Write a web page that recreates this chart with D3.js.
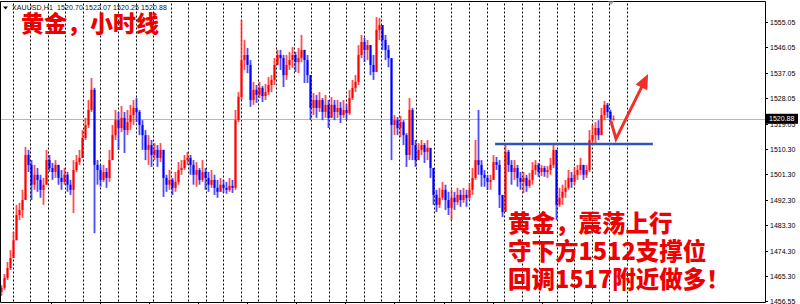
<!DOCTYPE html>
<html>
<head>
<meta charset="utf-8">
<script src="https://cdn.jsdelivr.net/npm/d3@7"></script>
<style>
  body { margin: 0; background: #fff; }
  svg { display: block; }
</style>
</head>
<body>
<svg id="mySVG"></svg>
<script>
// XAUUSD H1 bars (open = previous close)
var firstOpen = 1459.8;

var closes = [
  1461.2,1464.7,1468.2,1471.7,1478.0,1486.9,1488.7,1492.2,1508.1,1504.6,
  1497.6,1501.1,1499.3,1495.8,1497.6,1506.3,1503.5,1502.1,1504.6,1500.0,
  1498.6,1501.1,1497.6,1495.8,1502.8,1505.6,1507.1,1514.1,1518.7,1524.0,
  1531.1,1504.6,1502.8,1499.3,1502.1,1500.0,1506.3,1515.1,1520.4,1517.6,
  1521.2,1516.9,1519.7,1522.2,1524.7,1523.3,1518.7,1515.1,1509.9,1511.6,
  1508.1,1509.9,1507.1,1509.9,1500.0,1497.6,1499.3,1496.5,1498.6,1502.8,
  1503.5,1506.3,1507.1,1504.6,1501.1,1502.8,1499.3,1502.1,1500.0,1497.6,
  1499.3,1496.5,1495.1,1497.6,1496.5,1495.8,1497.2,1496.5,1520.4,1528.6,
  1541.6,1543.4,1539.9,1527.5,1531.1,1529.3,1531.8,1528.9,1530.3,1532.8,
  1534.6,1539.9,1543.4,1542.3,1536.3,1539.9,1541.6,1543.4,1540.9,1542.3,
  1545.2,1541.6,1536.3,1524.7,1527.5,1524.7,1527.5,1523.3,1525.8,1521.2,
  1525.8,1523.3,1524.7,1522.2,1524.0,1522.9,1528.2,1531.8,1533.9,1543.4,
  1548.0,1545.2,1546.9,1539.9,1537.4,1552.2,1554.0,1548.7,1545.2,1542.3,
  1518.7,1520.4,1517.6,1519.7,1515.1,1508.1,1524.0,1511.6,1506.3,1509.9,
  1511.6,1509.2,1510.6,1503.5,1494.0,1490.5,1493.0,1495.8,1492.2,1489.4,
  1493.0,1491.5,1494.0,1492.2,1494.0,1493.0,1495.8,1500.0,1506.3,1504.6,
  1501.1,1500.0,1498.6,1499.3,1505.6,1504.6,1494.0,1488.0,1509.2,1504.6,
  1502.1,1503.5,1500.0,1498.6,1500.0,1497.2,1499.3,1502.8,1504.6,1502.1,
  1503.5,1502.1,1502.8,1504.6,1509.9,1490.5,1493.0,1495.1,1496.5,1500.0,
  1498.6,1501.1,1502.8,1504.6,1501.1,1502.8,1513.4,1515.1,1517.6,1515.1,
  1522.2,1525.8,1523.3,1520.70,1520.88
];

var highs = [
  1462.2,1466.1,1470.3,1474.5,1480.9,1490.5,1491.2,1495.8,1510.9,1509.9,
  1506.3,1504.6,1503.5,1501.1,1500.0,1509.9,1508.1,1505.3,1506.3,1504.6,
  1502.8,1503.5,1502.1,1499.3,1506.3,1508.1,1509.9,1516.9,1521.2,1527.5,
  1535.3,1531.8,1506.3,1504.6,1504.6,1503.5,1509.9,1518.7,1524.0,1523.3,
  1525.4,1523.3,1524.0,1525.8,1527.5,1528.2,1524.0,1520.4,1516.9,1515.1,
  1513.4,1512.3,1511.6,1512.3,1509.9,1501.1,1502.8,1500.0,1502.1,1505.6,
  1506.3,1508.1,1509.2,1508.1,1506.3,1505.6,1503.5,1506.3,1503.5,1502.1,
  1502.8,1501.1,1499.3,1500.0,1499.3,1498.6,1500.0,1499.3,1524.0,1530.3,
  1555.8,1548.7,1545.9,1541.6,1533.9,1532.8,1533.9,1532.5,1533.2,1535.6,
  1536.3,1542.3,1545.2,1545.2,1543.4,1543.4,1544.5,1546.2,1544.5,1545.9,
  1550.5,1545.2,1543.4,1536.3,1530.0,1529.3,1530.3,1528.2,1529.3,1527.5,
  1528.6,1527.5,1527.5,1526.8,1527.5,1526.1,1531.1,1534.6,1536.3,1546.9,
  1550.5,1549.4,1548.7,1546.9,1543.4,1556.8,1556.5,1553.3,1550.5,1546.9,
  1541.6,1522.2,1521.5,1521.9,1520.4,1515.8,1528.2,1524.7,1513.4,1512.3,
  1513.4,1512.3,1513.4,1510.6,1502.8,1495.8,1496.5,1498.6,1497.6,1495.1,
  1495.8,1495.1,1496.5,1495.8,1496.5,1495.8,1498.3,1503.5,1513.4,1524.0,
  1506.3,1502.8,1501.1,1501.1,1508.1,1507.4,1506.3,1494.0,1511.6,1509.9,
  1506.3,1506.3,1504.6,1502.1,1502.1,1501.1,1501.8,1505.6,1506.3,1505.3,
  1504.6,1504.2,1504.2,1507.1,1512.0,1509.9,1496.5,1497.6,1499.3,1502.8,
  1502.1,1503.9,1504.6,1507.1,1504.6,1504.6,1516.9,1518.7,1519.7,1520.4,
  1524.7,1527.2,1526.5,1524.0,1522.07
];

var lows = [
  1458.4,1460.5,1464.0,1467.5,1471.7,1478.0,1485.1,1485.9,1492.2,1502.1,
  1492.2,1495.8,1495.1,1493.0,1490.5,1497.6,1502.1,1499.3,1500.0,1497.6,
  1495.8,1497.6,1495.1,1494.0,1487.6,1502.1,1504.6,1507.1,1513.4,1517.6,
  1523.3,1480.5,1497.6,1496.9,1498.6,1496.5,1498.6,1506.3,1513.4,1509.9,
  1516.2,1508.8,1515.1,1516.9,1518.7,1519.7,1515.1,1509.9,1506.3,1504.6,
  1503.9,1506.3,1503.9,1505.6,1493.3,1495.1,1495.8,1494.0,1495.1,1497.6,
  1501.1,1502.8,1504.6,1501.1,1497.6,1496.9,1497.6,1498.6,1495.8,1495.1,
  1496.5,1494.0,1493.0,1495.1,1494.7,1494.4,1495.1,1494.7,1495.8,1519.7,
  1527.5,1538.1,1537.0,1525.1,1525.8,1526.5,1528.2,1526.8,1527.5,1529.3,
  1530.3,1532.8,1539.9,1538.1,1532.1,1534.6,1538.1,1538.8,1537.4,1537.0,
  1540.9,1533.5,1533.5,1520.4,1522.2,1521.2,1523.3,1520.4,1521.2,1517.6,
  1522.2,1520.4,1521.2,1519.4,1521.2,1520.4,1522.2,1527.5,1530.3,1532.8,
  1542.3,1540.9,1541.6,1536.3,1534.6,1538.1,1548.7,1545.2,1541.6,1539.1,
  1506.3,1515.1,1515.1,1514.4,1511.6,1503.9,1506.3,1506.3,1503.9,1506.3,
  1508.1,1505.3,1506.3,1500.0,1490.5,1488.0,1489.4,1492.2,1488.7,1486.9,
  1485.1,1488.7,1490.5,1489.8,1491.2,1489.8,1492.2,1494.0,1499.3,1501.1,
  1496.9,1496.9,1495.8,1495.8,1499.3,1502.8,1489.4,1486.2,1488.0,1502.1,
  1497.6,1499.3,1496.9,1495.8,1494.7,1495.1,1496.5,1497.6,1501.1,1500.4,
  1500.7,1500.4,1500.0,1501.1,1503.5,1485.1,1489.8,1490.5,1493.0,1495.8,
  1496.5,1497.6,1499.3,1501.1,1499.3,1500.0,1502.1,1511.6,1512.3,1513.4,
  1515.1,1520.4,1521.2,1519.7,1520.25
];

// price scale labels as MT4 printed them
var priceLabels = [1555.05, 1546.05, 1537.05, 1528.05, 1519.05, 1510.30,
                   1501.30, 1492.30, 1483.30, 1474.30, 1465.30, 1456.55];
var bidPrice = 1520.88;
var headerText = "XAUUSD,H1  1520.70 1522.07 1520.25 1520.88";

var title = "黄金，小时线";
var noteLines = ["黄金，震荡上行", "守下方1512支撑位", "回调1517附近做多！"];

// support line and expected path (bar index, price)
var supportPrice = 1512;
var supportBars = [164.7, 217.3];
var arrowPath = [[203.3, 1520.1], [205, 1513.8], [215.7, 1536.7]];

var width = 800, height = 304;
var plotRight = 765, plotTop = 1.5, plotBottom = 302.5;

var svg = d3.select("#mySVG")
  .attr("width", width)
  .attr("height", height);

// scales
var x = d3.scaleLinear().domain([0, closes.length - 1]).range([1, 613]);
var y = d3.scaleLinear().domain([1456.55, 1555.05]).range([301, 22]);

// build bars
var bars = closes.map(function(c, i) {
  var o = i === 0 ? firstOpen : closes[i - 1];
  return {i: i, o: o, c: c,
          h: Math.max(highs[i], o, c), l: Math.min(lows[i], o, c)};
});

// vertical dashed grid (every ~5.85 bars)
svg.selectAll("line.grid")
  .data(d3.range(3.9, 210, 5.85))
  .enter().append("line")
    .attr("class", "grid")
    .attr("x1", function(d) { return Math.round(x(d)) + 0.5; })
    .attr("x2", function(d) { return Math.round(x(d)) + 0.5; })
    .attr("y1", plotTop + 2)
    .attr("y2", plotBottom)
    .style("stroke", "#000")
    .style("stroke-width", 1)
    .style("stroke-dasharray", "2,2");

// bid line
svg.append("line")
  .attr("x1", 0).attr("x2", plotRight)
  .attr("y1", Math.round(y(bidPrice)) + 0.5)
  .attr("y2", Math.round(y(bidPrice)) + 0.5)
  .style("stroke", "#b8b8b8")
  .style("stroke-width", 1);

// candles
var candle = svg.append("g").selectAll("g")
  .data(bars)
  .enter().append("g");

candle.append("line")
  .attr("x1", function(d) { return x(d.i) + 0.5; })
  .attr("x2", function(d) { return x(d.i) + 0.5; })
  .attr("y1", function(d) { return y(d.h); })
  .attr("y2", function(d) { return y(d.l); })
  .style("stroke", function(d) { return d.c >= d.o ? "#ff2020" : "#2020ff"; })
  .style("stroke-width", 1.8)
  .style("opacity", 0.8);

candle.append("rect")
  .attr("x", function(d) { return x(d.i) - 0.5; })
  .attr("width", 2)
  .attr("y", function(d) { return y(Math.max(d.o, d.c)); })
  .attr("height", function(d) { return Math.max(1, Math.abs(y(d.o) - y(d.c))); })
  .style("fill", function(d) { return d.c >= d.o ? "#ff0000" : "#0000ff"; });

// chart frame
svg.append("path")
  .attr("d", "M0.5," + plotBottom + "V" + plotTop + "H" + (plotRight + 0.5) + "V" + plotBottom + "H0.5")
  .style("fill", "none")
  .style("stroke", "#000")
  .style("stroke-width", 1);

// time ticks on the bottom edge
svg.selectAll("line.tt")
  .data(d3.range(16.57, 205, 16.37))
  .enter().append("line")
    .attr("x1", function(d) { return Math.round(x(d)) + 0.5; })
    .attr("x2", function(d) { return Math.round(x(d)) + 0.5; })
    .attr("y1", plotBottom)
    .attr("y2", plotBottom + 4)
    .style("stroke", "#000");

// right price axis
var axis = svg.append("g").selectAll("g")
  .data(priceLabels)
  .enter().append("g")
    .attr("transform", function(d) { return "translate(0," + Math.round(y(d)) + ")"; });

axis.append("line")
  .attr("x1", plotRight).attr("x2", plotRight + 3)
  .attr("y1", 0.5).attr("y2", 0.5)
  .style("stroke", "#000");

axis.append("text")
  .attr("x", plotRight + 5)
  .attr("y", 3)
  .style("font-family", "Liberation Sans, Arial, sans-serif")
  .style("font-size", "7px")
  .style("fill", "#000")
  .text(function(d) { return d.toFixed(2); });

// bid price box
svg.append("rect")
  .attr("x", plotRight + 1)
  .attr("y", y(bidPrice) - 5)
  .attr("width", 32)
  .attr("height", 10)
  .style("fill", "#000");

svg.append("text")
  .attr("x", plotRight + 4)
  .attr("y", y(bidPrice) + 2.5)
  .style("font-family", "Liberation Sans, Arial, sans-serif")
  .style("font-size", "7px")
  .style("fill", "#fff")
  .text(bidPrice.toFixed(2));

// header
svg.append("path")
  .attr("d", "M3,6.5H8L5.5,9.5Z")
  .style("fill", "#000");

svg.append("text")
  .attr("x", 12)
  .attr("y", 10)
  .attr("textLength", 155)
  .attr("lengthAdjust", "spacing")
  .style("white-space", "pre")
  .style("font-family", "Liberation Sans, Arial, sans-serif")
  .style("font-size", "7px")
  .style("fill", "#111")
  .text(headerText);

// chart shift marker
svg.append("path")
  .attr("d", "M608," + plotTop + "H614L611,5Z")
  .style("fill", "#aaa");

// support line
svg.append("line")
  .attr("x1", x(supportBars[0])).attr("x2", x(supportBars[1]))
  .attr("y1", y(supportPrice)).attr("y2", y(supportPrice))
  .style("stroke", "#2f55b8")
  .style("stroke-width", 2.5);

// red arrow
var pts = arrowPath.map(function(p) { return [x(p[0]), y(p[1])]; });
var tip = pts[pts.length - 1], prev = pts[pts.length - 2];
var dx = tip[0] - prev[0], dy = tip[1] - prev[1];
var len = Math.sqrt(dx * dx + dy * dy);
var ux = dx / len, uy = dy / len;
var headLen = 15, headW = 6.5;
var base = [tip[0] - ux * headLen, tip[1] - uy * headLen];
pts[pts.length - 1] = [tip[0] - ux * (headLen - 2), tip[1] - uy * (headLen - 2)];

svg.append("path")
  .attr("d", d3.line()(pts))
  .style("fill", "none")
  .style("stroke", "#f0302a")
  .style("stroke-width", 3)
  .style("stroke-linejoin", "miter");

svg.append("path")
  .attr("d", d3.line()([tip,
    [base[0] - uy * headW, base[1] + ux * headW],
    [base[0] + uy * headW, base[1] - ux * headW]]) + "Z")
  .style("fill", "#f0302a");

// texts
var cjk = "'Noto Sans CJK SC', sans-serif";

svg.append("text")
  .attr("x", 21)
  .attr("y", 32)
  .style("font-family", cjk)
  .style("font-weight", "900")
  .style("font-size", "23px")
  .style("fill", "#ee0000")
  .text(title);

svg.selectAll("text.note")
  .data(noteLines)
  .enter().append("text")
    .attr("x", 508)
    .attr("y", function(d, i) { return 232 + i * 28; })
    .style("font-family", cjk)
    .style("font-weight", "900")
    .style("font-size", "23.5px")
    .style("fill", "#ee0000")
    .text(function(d) { return d; });
</script>
</body>
</html>
